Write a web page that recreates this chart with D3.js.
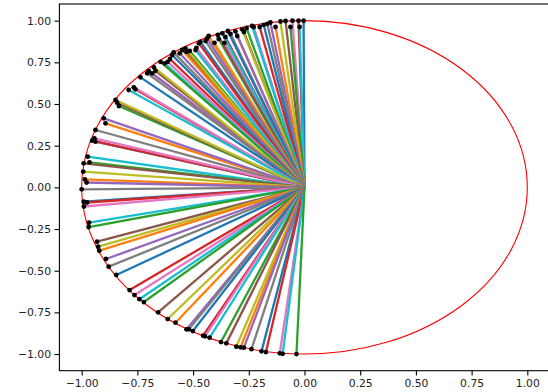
<!DOCTYPE html>
<html>
<head>
<meta charset="utf-8">
<script src="https://cdn.jsdelivr.net/npm/d3@7"></script>
<style>
  html, body { margin: 0; padding: 0; background: #fff; }
  svg { display: block; }
</style>
</head>
<body>
<svg id="chart" width="548" height="392"></svg>
<script>
// Endpoint coordinates of each spoke
const pointX = [
  -0.004, -0.027, -0.054, -0.022, -0.063, -0.085, -0.108, -0.130, -0.153, -0.167,
  -0.183, -0.201, -0.228, -0.235, -0.260, -0.272, -0.280, -0.302, -0.310, -0.332,
  -0.344, -0.355, -0.359, -0.369, -0.385, -0.389, -0.404, -0.430, -0.437, -0.444,
  -0.467, -0.474, -0.485, -0.489, -0.515, -0.530, -0.534, -0.549, -0.560, -0.587,
  -0.594, -0.604, -0.614, -0.628, -0.646, -0.669, -0.676, -0.684, -0.699, -0.706,
  -0.736, -0.759, -0.766, -0.789, -0.833, -0.841, -0.848, -0.893, -0.901, -0.938,
  -0.938, -0.953, -0.943, -0.973, -0.965, -0.991, -0.993, -0.986, -0.978, -1.000,
  -0.991, -0.976, -0.990, -0.967, -0.969, -0.931, -0.926, -0.921, -0.891, -0.879,
  -0.845, -0.785, -0.763, -0.741, -0.721, -0.657, -0.614, -0.579, -0.530, -0.519,
  -0.501, -0.455, -0.447, -0.426, -0.375, -0.351, -0.306, -0.287, -0.272, -0.238,
  -0.193, -0.173, -0.111, -0.098, -0.036
];
const pointY = [
   1.000,  1.000,  1.000,  0.962,  0.962,  0.998,  0.995,  0.962,  0.989,  0.981,
   0.975,  0.962,  0.962,  0.968,  0.956,  0.932,  0.948,  0.908,  0.936,  0.921,
   0.938,  0.902,  0.867,  0.924,  0.890,  0.914,  0.867,  0.908,  0.894,  0.878,
   0.873,  0.864,  0.837,  0.824,  0.818,  0.813,  0.834,  0.824,  0.804,  0.810,
   0.794,  0.770,  0.753,  0.744,  0.753,  0.699,  0.720,  0.684,  0.698,  0.684,
   0.660,  0.588,  0.600,  0.584,  0.488,  0.508,  0.524,  0.384,  0.414,  0.344,
   0.274,  0.280,  0.294,  0.184,  0.150,  0.144,  0.094,  0.048,  0.029, -0.012,
  -0.086, -0.091, -0.115, -0.212, -0.238, -0.326, -0.356, -0.380, -0.430, -0.476,
  -0.526, -0.616, -0.646, -0.671, -0.688, -0.750, -0.790, -0.812, -0.852, -0.852,
  -0.862, -0.890, -0.894, -0.902, -0.928, -0.936, -0.956, -0.960, -0.962, -0.971,
  -0.984, -0.988, -0.996, -0.999, -1.000
];
const xTicks = [-1.00, -0.75, -0.50, -0.25, 0.00, 0.25, 0.50, 0.75, 1.00];
const yTicks = [-1.00, -0.75, -0.50, -0.25, 0.00, 0.25, 0.50, 0.75, 1.00];
const palette = ["#1f77b4","#ff7f0e","#2ca02c","#d62728","#9467bd",
                 "#8c564b","#e377c2","#7f7f7f","#bcbd22","#17becf"];

const svg = d3.select("#chart");
const plotLeft = 59.4, plotRight = 549.6, plotTop = 4, plotBottom = 370.7;

const x = d3.scaleLinear().domain([-1.1, 1.1]).range([plotLeft, plotRight]);
const y = d3.scaleLinear().domain([-1.1, 1.1]).range([plotBottom, plotTop]);

const points = pointX.map((px, i) => ({ x: px, y: pointY[i], i }));

const fmt = v => (v < 0 ? "\u2212" : "") + Math.abs(v).toFixed(2);

// spokes
svg.append("g").selectAll("line").data(points).join("line")
  .attr("x1", x(0)).attr("y1", y(0))
  .attr("x2", d => x(d.x)).attr("y2", d => y(d.y))
  .attr("stroke", d => palette[(d.i * 3) % 10])
  .attr("stroke-width", 2.3);

// unit circle
svg.append("ellipse")
  .attr("cx", x(0)).attr("cy", y(0))
  .attr("rx", x(1) - x(0)).attr("ry", y(0) - y(1))
  .attr("fill", "none").attr("stroke", "#ff0000").attr("stroke-width", 1.1);

// endpoint dots
svg.append("g").selectAll("circle").data(points).join("circle")
  .attr("cx", d => x(d.x)).attr("cy", d => y(d.y))
  .attr("r", 2.4).attr("fill", "#000");

// axes
const xAxis = d3.axisBottom(x).tickValues(xTicks).tickFormat(fmt).tickSize(4.9).tickPadding(3.5);
const yAxis = d3.axisLeft(y).tickValues(yTicks).tickFormat(fmt).tickSize(4.9).tickPadding(3.5);

const gx = svg.append("g").attr("transform", `translate(0,${plotBottom})`).call(xAxis);
const gy = svg.append("g").attr("transform", `translate(${plotLeft},0)`).call(yAxis);
[gx, gy].forEach(g => {
  g.select(".domain").remove();
  g.selectAll(".tick line").attr("stroke", "#000").attr("stroke-width", 1.1);
  g.selectAll(".tick text").attr("fill", "#222")
    .style("font-family", "'DejaVu Sans', sans-serif").style("font-size", "10.8px");
});

// frame
svg.append("rect")
  .attr("x", plotLeft).attr("y", plotTop)
  .attr("width", plotRight - plotLeft).attr("height", plotBottom - plotTop)
  .attr("fill", "none").attr("stroke", "#000").attr("stroke-width", 1.1);
</script>
</body>
</html>
